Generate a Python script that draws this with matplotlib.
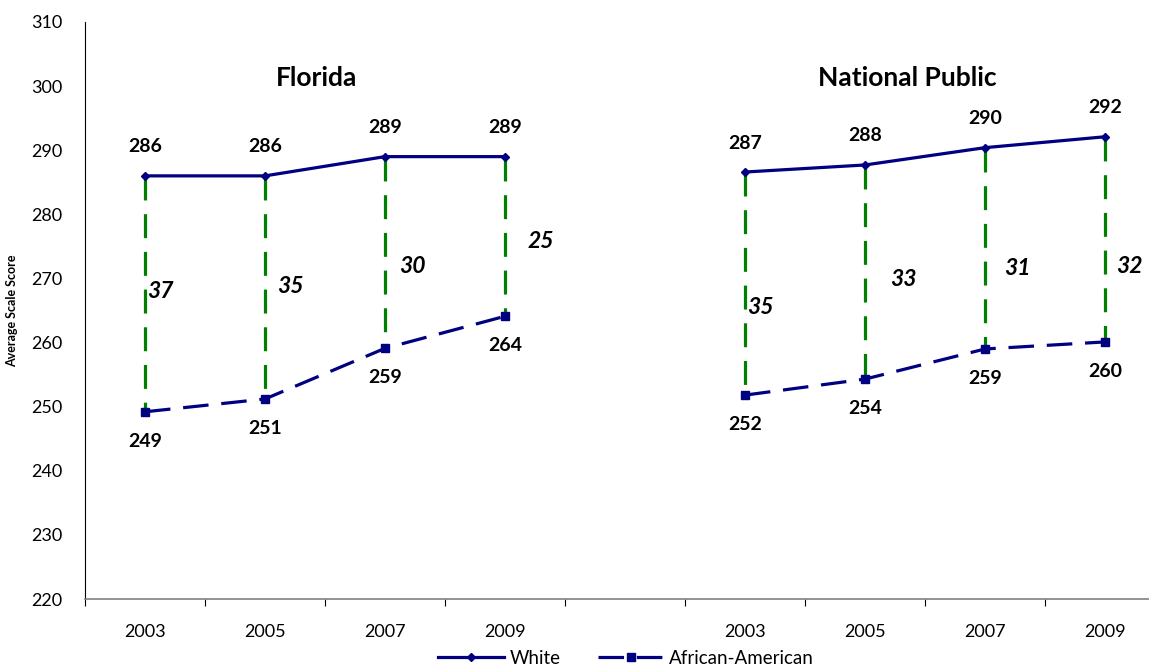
import matplotlib
matplotlib.use("Agg")
import matplotlib.pyplot as plt
from matplotlib.lines import Line2D

plt.rcParams['font.family'] = ['Lato', 'DejaVu Sans']

years = ["2003", "2005", "2007", "2009"]
groups = ["Florida", "National Public"]

florida_white = [286.0, 286.0, 289.0, 289.0]
florida_aa = [249.2, 251.2, 259.1, 264.1]
florida_gap = [37, 35, 30, 25]

national_white = [286.6, 287.7, 290.4, 292.1]
national_aa = [251.8, 254.3, 259.0, 260.1]
national_gap = [35, 33, 31, 32]

NAVY = "#000080"
GREEN = "#008000"

fig = plt.figure(figsize=(11.49, 6.69), dpi=100)
W, H = 1149, 669
ax = fig.add_axes([85 / W, 1 - 599 / H, (1165 - 85) / W, (599 - 22) / H])

# slot positions: 4 years, an empty slot, 4 years
x_fl = [0, 1, 2, 3]
x_np = [5, 6, 7, 8]

# gap label placement (x offset from point, y in score units)
fl_gap_pos = [(0.13, 267.9), (0.21, 268.8), (0.23, 271.8), (0.30, 275.8)]
np_gap_pos = [(0.13, 265.5), (0.32, 269.8), (0.27, 271.6), (0.20, 271.8)]

for xs, white, aa, gaps, gpos in [
    (x_fl, florida_white, florida_aa, florida_gap, fl_gap_pos),
    (x_np, national_white, national_aa, national_gap, np_gap_pos),
]:
    for x, w, a in zip(xs, white, aa):
        ax.plot([x, x], [w, a], color=GREEN, lw=2.3,
                linestyle=(0, (7.5, 4.3)), zorder=2)
    ax.plot(xs, white, color=NAVY, lw=2.3, marker="D", markersize=4.5, zorder=3)
    ax.plot(xs, aa, color=NAVY, lw=2.3, marker="s", markersize=6,
            linestyle=(0, (8, 4)), zorder=3)
    for x, w, a in zip(xs, white, aa):
        ax.text(x, w + 3.2, f"{round(w)}", ha="center", va="bottom",
                fontsize=14, fontweight="bold")
        ax.text(x, a - 3.3, f"{round(a)}", ha="center", va="top",
                fontsize=14, fontweight="bold")
    for x, g, (dx, gy) in zip(xs, gaps, gpos):
        ax.text(x + dx, gy, str(g), ha="center", va="center",
                fontsize=16.5, fontweight="bold", style="italic")

ax.text(1.43, 301.2, groups[0], ha="center", va="center",
        fontsize=19, fontweight="bold")
ax.text(6.35, 301.2, groups[1], ha="center", va="center",
        fontsize=19, fontweight="bold")

ax.set_xlim(-0.5, 8.5)
ax.set_ylim(220, 310)
ax.set_yticks(range(220, 311, 10))
ax.tick_params(axis="y", length=0, labelsize=13, pad=16)

ax.set_xticks([i + 0.5 for i in range(-1, 9)])
ax.set_xticklabels([])
ax.set_xticks(x_fl + x_np, minor=True)
ax.set_xticklabels(years + years, minor=True)
ax.tick_params(axis="x", which="major", length=5, direction="out", color="black")
ax.tick_params(axis="x", which="minor", length=0, labelsize=13, pad=18)

for s in ["top", "right"]:
    ax.spines[s].set_visible(False)
ax.spines["bottom"].set_color("#808080")
ax.spines["bottom"].set_linewidth(1.2)
ax.spines["left"].set_color("black")

ax.set_ylabel("Average Scale Score", fontsize=9, fontweight="bold", labelpad=10)

handles = [
    Line2D([], [], color=NAVY, lw=2.3, marker="D", markersize=4.5),
    Line2D([], [], color=NAVY, lw=2.3, marker="s", markersize=6,
           linestyle=(0, (8, 4))),
]
fig.legend(handles, ["White", "African-American"], loc="center",
           bbox_to_anchor=(626 / W, 1 - 658 / H), ncol=2, frameon=False,
           fontsize=13.5, handlelength=3.5, columnspacing=2.0, handletextpad=0.3)

fig.savefig("out.png", dpi=100)
